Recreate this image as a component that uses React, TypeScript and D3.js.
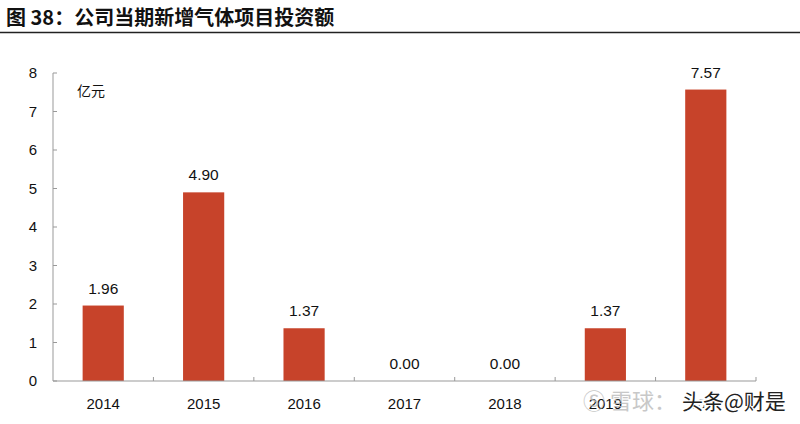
import React from 'react';
import { scaleBand, scaleLinear } from 'd3';

const categories = ['2014', '2015', '2016', '2017', '2018', '2019', '2020'];
const values = [1.96, 4.9, 1.37, 0, 0, 1.37, 7.57];
const yTicks = [0, 1, 2, 3, 4, 5, 6, 7, 8];

const width = 800;
const height = 424;
const margin = { top: 73, right: 44, bottom: 43, left: 53 };
const font = '"Liberation Sans", Arial, sans-serif';
const cjk = '"Noto Sans CJK SC", "Noto Sans", sans-serif';

export default function App() {
  const innerW = width - margin.left - margin.right;
  const innerH = height - margin.top - margin.bottom;

  const x = scaleBand().domain(categories).range([0, innerW]).paddingInner(0.59).paddingOuter(0.295);
  const xEdges = scaleBand().domain(categories).range([0, innerW]);
  const y = scaleLinear().domain([0, 8]).range([innerH, 0]);

  return (
    <svg width={width} height={height} style={{ position: 'absolute', left: 0, top: 0, background: '#fff' }}>
      <text x={6} y={25} fontFamily={cjk} fontWeight={700} fontSize={20} fill="#111">
        图 38：公司当期新增气体项目投资额
      </text>
      <line x1={0} x2={width} y1={32.5} y2={32.5} stroke="#222" strokeWidth={1.5} />

      <g transform={`translate(${margin.left},${margin.top})`}>
        {/* y axis */}
        <line x1={0} x2={0} y1={0} y2={innerH} stroke="#999" />
        {yTicks.map(t => (
          <g key={t} transform={`translate(0,${y(t)})`}>
            <line x1={0} x2={4} stroke="#999" />
            <text x={-20} dy="0.35em" textAnchor="middle" fontFamily={font} fontSize={15} fill="#111">
              {t}
            </text>
          </g>
        ))}
        <text x={24} y={23} fontFamily={cjk} fontSize={14} fill="#111">亿元</text>

        {/* bars */}
        {categories.map((c, i) => (
          <g key={c}>
            <rect x={x(c)} y={y(values[i])} width={x.bandwidth()} height={innerH - y(values[i])} fill="#C7432A" />
            <text
              x={(x(c) as number) + x.bandwidth() / 2}
              y={y(values[i]) - 12}
              textAnchor="middle"
              fontFamily={font}
              fontSize={15.5}
              fill="#111"
            >
              {values[i].toFixed(2)}
            </text>
          </g>
        ))}

        {/* x axis */}
        <line x1={0} x2={innerW} y1={innerH} y2={innerH} stroke="#999" />
        {categories.map(c => (
          <line key={c} x1={(xEdges(c) as number) + xEdges.bandwidth()} x2={(xEdges(c) as number) + xEdges.bandwidth()} y1={innerH} y2={innerH - 4} stroke="#999" />
        ))}
        {categories.map(c => (
          <text
            key={c}
            x={(x(c) as number) + x.bandwidth() / 2}
            y={innerH + 28}
            textAnchor="middle"
            fontFamily={font}
            fontSize={15}
            fill="#111"
          >
            {c}
          </text>
        ))}
      </g>

      {/* watermark */}
      <text x={583} y={409} fontFamily={cjk} fontSize={22} fill="#bbb" opacity={0.8}>Ⓢ 雪球：</text>
      <text
        x={682}
        y={409}
        fontFamily={cjk}
        fontSize={21}
        fill="#222"
        stroke="#fff"
        strokeWidth={4}
        paintOrder="stroke"
      >
        头条@财是
      </text>
    </svg>
  );
}
